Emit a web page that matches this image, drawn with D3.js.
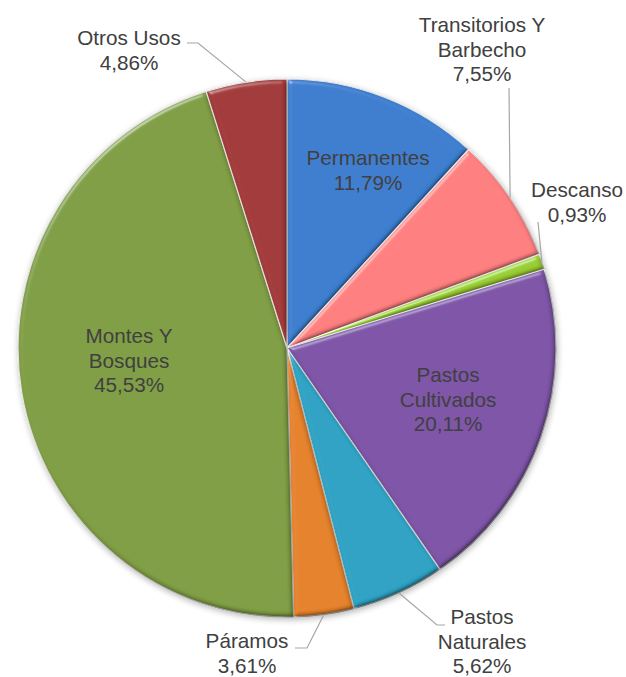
<!DOCTYPE html>
<html>
<head>
<meta charset="utf-8">
<script src="https://cdn.jsdelivr.net/npm/d3@7"></script>
<style>
  body { margin: 0; background: #fff; }
  svg { display: block; }
</style>
</head>
<body>
<svg></svg>
<script>
var width = 626, height = 677;
var cx = 287, cy = 348, radius = 269;

// datos (porcentaje del uso del suelo)
var categories = ["Permanentes", "Transitorios Y Barbecho", "Descanso", "Pastos Cultivados",
                  "Pastos Naturales", "Páramos", "Montes Y Bosques", "Otros Usos"];
var values = [11.79, 7.55, 0.93, 20.11, 5.62, 3.61, 45.53, 4.86];
var labelLines = [["Permanentes"], ["Transitorios Y", "Barbecho"], ["Descanso"], ["Pastos", "Cultivados"],
                  ["Pastos", "Naturales"], ["Páramos"], ["Montes Y", "Bosques"], ["Otros Usos"]];
var colors = ["#3c7ecf", "#ff7f7f", "#9acd32", "#7e55a7", "#2ea3c4", "#e5822c", "#809e44", "#a33a3a"];

// posicion de etiquetas relativa al centro (x centro, primera linea base)
var labelPos = {
  "Permanentes": [81, -183],
  "Transitorios Y Barbecho": [195, -316],
  "Descanso": [290, -151],
  "Pastos Cultivados": [161, 34],
  "Pastos Naturales": [195, 276],
  "Páramos": [-40, 300],
  "Montes Y Bosques": [-158, -5],
  "Otros Usos": [-158, -303]
};
// lineas guia: puntos despues del borde del arco
var leaders = {
  "Otros Usos": [[-89, -305], [-100, -305]],
  "Transitorios Y Barbecho": [[222, -260]],
  "Descanso": [[251, -126]],
  "Pastos Naturales": [[150, 277], [158, 277]],
  "Páramos": [[20, 300], [8, 300]]
};

var fmt = v => d3.format(".2f")(v).replace(".", ",") + "%";

var svg = d3.select("svg").attr("width", width).attr("height", height);
var defs = svg.append("defs");

// efecto biselado: sombreado difuso (bordes claros/oscuros) + brillo
var bevel = defs.append("filter").attr("id", "bevel")
  .attr("x", "-5%").attr("y", "-5%").attr("width", "110%").attr("height", "110%");
bevel.append("feGaussianBlur").attr("in", "SourceAlpha").attr("stdDeviation", 2.5).attr("result", "blur");
var diff = bevel.append("feDiffuseLighting").attr("in", "blur").attr("surfaceScale", 2.5)
  .attr("diffuseConstant", 1.414).attr("lighting-color", "#ffffff").attr("result", "diff");
diff.append("feDistantLight").attr("azimuth", 235).attr("elevation", 45);
bevel.append("feComposite").attr("in", "SourceGraphic").attr("in2", "diff")
  .attr("operator", "arithmetic").attr("k1", 1).attr("k2", 0).attr("k3", 0).attr("k4", 0).attr("result", "shaded");
var spec = bevel.append("feSpecularLighting").attr("in", "blur").attr("surfaceScale", 4)
  .attr("specularConstant", 0.8).attr("specularExponent", 30).attr("lighting-color", "#ffffff")
  .attr("result", "spec");
spec.append("feDistantLight").attr("azimuth", 235).attr("elevation", 30);
bevel.append("feComposite").attr("in", "spec").attr("in2", "SourceAlpha").attr("operator", "in").attr("result", "specIn");
bevel.append("feComposite").attr("in", "shaded").attr("in2", "specIn")
  .attr("operator", "arithmetic").attr("k1", 0).attr("k2", 1).attr("k3", 0.4).attr("k4", 0);

var shadow = defs.append("filter").attr("id", "shadow")
  .attr("x", "-10%").attr("y", "-10%").attr("width", "120%").attr("height", "120%");
shadow.append("feGaussianBlur").attr("in", "SourceAlpha").attr("stdDeviation", 3);
shadow.append("feOffset").attr("dx", 1).attr("dy", 2).attr("result", "off");
shadow.append("feComponentTransfer").append("feFuncA").attr("type", "linear").attr("slope", 0.3);
var merge = shadow.append("feMerge");
merge.append("feMergeNode");
merge.append("feMergeNode").attr("in", "SourceGraphic");

var pie = d3.pie().sort(null).value(d => d.value);
var arcs = pie(categories.map((c, i) => ({name: c, value: values[i], lines: labelLines[i], color: colors[i]})));
var arc = d3.arc().innerRadius(0).outerRadius(radius);

var g = svg.append("g").attr("transform", "translate(" + cx + "," + cy + ")");

var slices = g.append("g").attr("filter", "url(#shadow)");
slices.selectAll("path")
  .data(arcs)
  .enter()
  .append("path")
  .attr("d", arc)
  .attr("fill", d => d.data.color)
  .attr("filter", "url(#bevel)")
  .attr("stroke", "#e4e4e4")
  .attr("stroke-width", 1.2)
  .attr("stroke-linejoin", "round");

// lineas guia
function midPoint(d) {
  var a = (d.startAngle + d.endAngle) / 2;
  return [radius * Math.sin(a), -radius * Math.cos(a)];
}
g.append("g")
  .selectAll("polyline")
  .data(arcs.filter(d => leaders[d.data.name]))
  .enter()
  .append("polyline")
  .attr("points", d => [midPoint(d)].concat(leaders[d.data.name]).map(p => p.join(",")).join(" "))
  .attr("fill", "none")
  .attr("stroke", "#a6a6a6")
  .attr("stroke-width", 1.2);

// etiquetas
var lh = 24.5;
var labels = g.append("g").selectAll("text")
  .data(arcs)
  .enter()
  .append("text")
  .attr("text-anchor", "middle")
  .attr("font-family", "'Liberation Sans', Arial, sans-serif")
  .attr("font-size", "20.7px")
  .attr("fill", "#404040")
  .attr("transform", d => "translate(" + labelPos[d.data.name][0] + "," + labelPos[d.data.name][1] + ")");

labels.each(function(d) {
  var t = d3.select(this);
  d.data.lines.concat([fmt(d.data.value)]).forEach(function(s, i) {
    t.append("tspan").attr("x", 0).attr("y", i * lh).text(s);
  });
});
</script>
</body>
</html>
